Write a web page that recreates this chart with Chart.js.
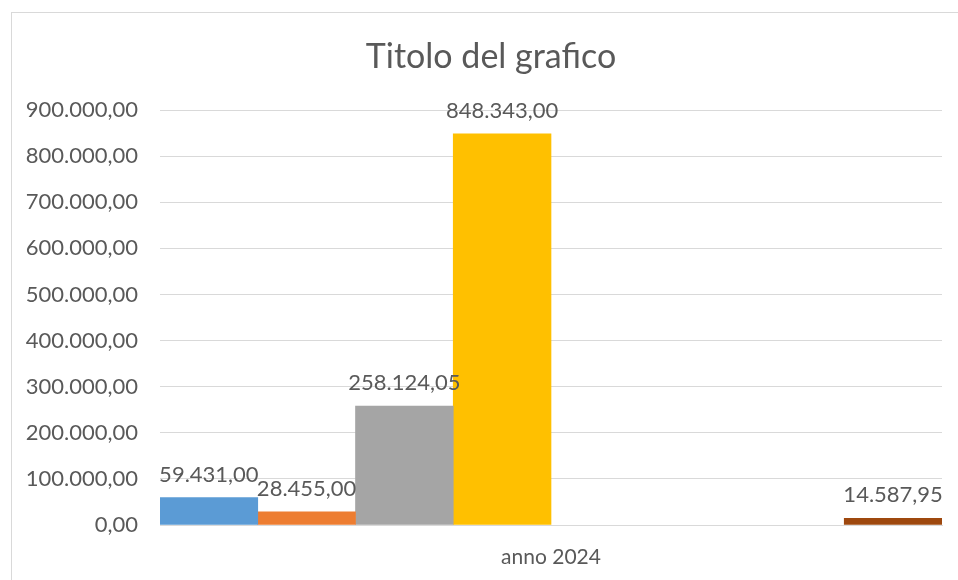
<!DOCTYPE html>
<html lang="it">
<head>
<meta charset="utf-8">
<title>Titolo del grafico</title>
<script src="https://cdn.jsdelivr.net/npm/chart.js@4.4.1/dist/chart.umd.min.js"></script>
<style>
  html, body { margin: 0; padding: 0; background: #fff; overflow: hidden; }
  #wrap { position: relative; width: 958px; height: 580px; }
</style>
</head>
<body>
<div id="wrap"><canvas id="grafico"></canvas></div>
<script>
// Dati
const categorie = ['anno 2024'];
const nomiSerie = ['Serie1', 'Serie2', 'Serie3', 'Serie4', 'Serie5', 'Serie6', 'Serie7', 'Serie8'];
const valoriSerie = [59431.00, 28455.00, 258124.05, 848343.00, null, null, null, 14587.95];
const coloriSerie = ['#5B9BD5', '#ED7D31', '#A5A5A5', '#FFC000', '#4472C4', '#70AD47', '#264478', '#9E480E'];
const assey = { min: 0, max: 900000, passo: 100000 };

const FONT = 'Lato, "Open Sans", sans-serif';
const GRIGIO_TESTO = '#595959';

// formato italiano: 848.343,00
function formatoIt(v) {
    const neg = v < 0;
    const parti = Math.abs(v).toFixed(2).split('.');
    const intero = parti[0].replace(/\B(?=(\d{3})+(?!\d))/g, '.');
    return (neg ? '-' : '') + intero + ',' + parti[1];
}

// cornice e titolo stile Excel
const cornice = {
    id: 'cornice',
    beforeDraw(chart) {
        const c = chart.ctx;
        c.save();
        c.strokeStyle = '#D9D9D9';
        c.lineWidth = 1;
        c.strokeRect(11.5, 12.5, 980, 600);
        c.fillStyle = GRIGIO_TESTO;
        c.font = '34px ' + FONT;
        c.textAlign = 'center';
        c.textBaseline = 'middle';
        c.fillText('Titolo del grafico', 491, 57);
        c.restore();
    }
};

// etichette dei valori sopra le barre
const etichette = {
    id: 'etichette',
    afterDatasetsDraw(chart) {
        const c = chart.ctx;
        c.save();
        c.fillStyle = GRIGIO_TESTO;
        c.font = '22px ' + FONT;
        c.textAlign = 'center';
        c.textBaseline = 'alphabetic';
        chart.data.datasets.forEach((ds, i) => {
            const meta = chart.getDatasetMeta(i);
            meta.data.forEach((el, j) => {
                const v = ds.data[j];
                if (v === null || v === undefined) return;
                c.fillText(formatoIt(v), el.x, el.y - 16);
            });
        });
        c.restore();
    }
};

const datasets = nomiSerie.map((nome, i) => ({
    label: nome,
    data: [valoriSerie[i]],
    backgroundColor: coloriSerie[i],
    borderWidth: 0,
    categoryPercentage: 1,
    barPercentage: 1
}));

new Chart(document.getElementById('grafico'), {
    type: 'bar',
    data: { labels: categorie, datasets: datasets },
    options: {
        responsive: true,
        maintainAspectRatio: false,
        animation: false,
        layout: { padding: { top: 110, right: 16, bottom: 0, left: 0 } },
        plugins: {
            legend: { display: false },
            title: { display: false },
            tooltip: { enabled: false }
        },
        scales: {
            x: {
                grid: { display: false },
                border: { color: '#D9D9D9', width: 1 },
                ticks: { color: GRIGIO_TESTO, font: { family: FONT, size: 21 }, padding: 12 },
                afterFit(scale) { scale.height = 55; }
            },
            y: {
                min: assey.min,
                max: assey.max,
                border: { display: false },
                grid: { color: '#D9D9D9', lineWidth: 1, drawTicks: false },
                ticks: {
                    stepSize: assey.passo,
                    color: GRIGIO_TESTO,
                    font: { family: FONT, size: 22 },
                    padding: 22,
                    callback: v => formatoIt(v)
                },
                afterFit(scale) { scale.width = 160; }
            }
        }
    },
    plugins: [cornice, etichette]
});
</script>
</body>
</html>
